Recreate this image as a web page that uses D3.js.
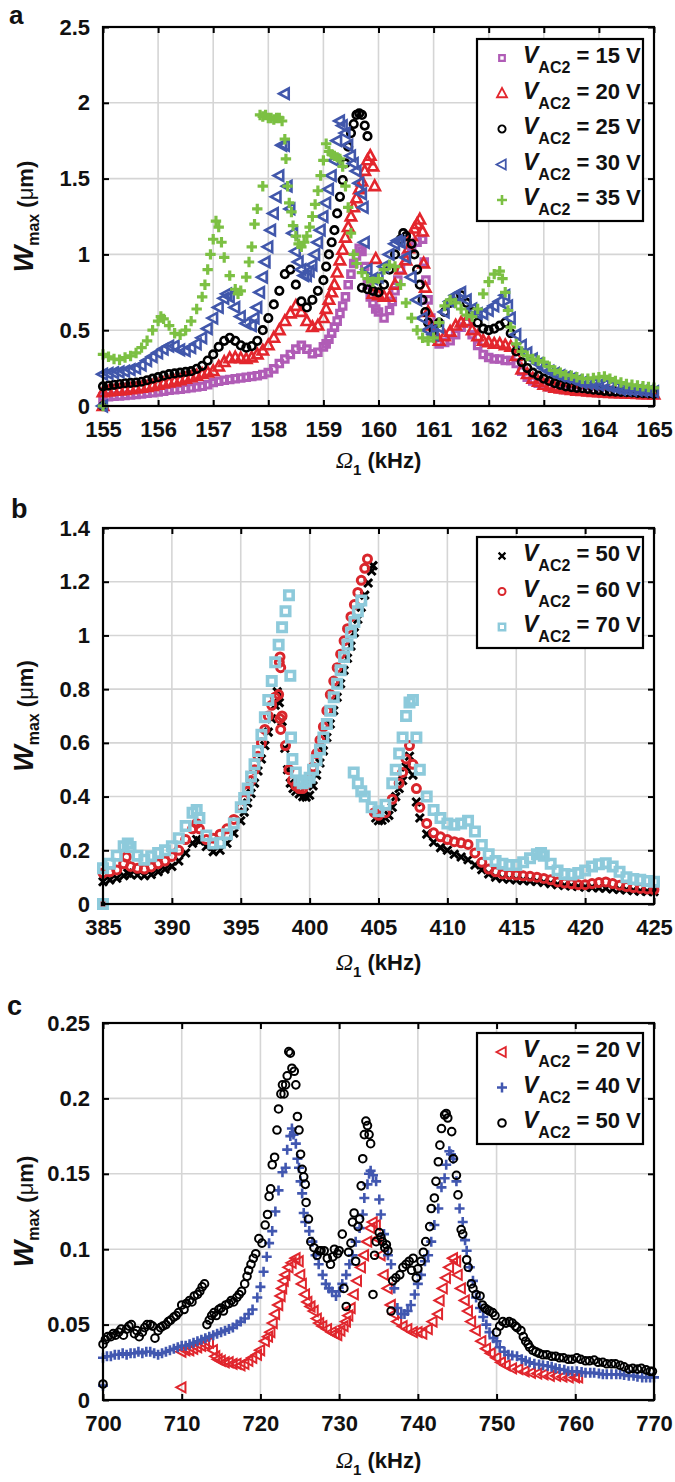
<!DOCTYPE html>
<html><head><meta charset="utf-8">
<script src="https://cdn.jsdelivr.net/npm/d3@7"></script>
<style>body{margin:0;background:#fff}svg{display:block}text{font-family:'Liberation Sans',Arial,sans-serif;font-weight:bold;fill:#111;white-space:pre}</style>
</head><body><svg id="c" width="675" height="1482"></svg>
<script>
// ---------- Panel a data ----------
const aTicksX = [155,156,157,158,159,160,161,162,163,164,165];
const aTicksY = [0,0.5,1,1.5,2,2.5];
const aLabelsY = ['0','0.5','1','1.5','2','2.5'];
const a15 = [[155,0],[155,.060],[155.1,.062],[155.2,.065],[155.3,.067],[155.4,.070],[155.5,.073],[155.6,.077],[155.7,.080],[155.8,.084],[155.9,.088],
[156,.093],[156.1,.098],[156.2,.104],[156.3,.107],[156.4,.110],[156.5,.115],[156.6,.120],[156.7,.125],[156.8,.130],[156.9,.140],
[157,.155],[157.1,.163],[157.2,.170],[157.3,.175],[157.4,.180],[157.5,.185],[157.6,.190],[157.7,.195],[157.8,.200],[157.9,.208],
[158,.220],[158.1,.245],[158.2,.280],[158.3,.310],[158.4,.340],[158.5,.375],[158.6,.400],[158.7,.375],[158.8,.345],[158.9,.355],
[159,.390],[159.05,.41],[159.1,.44],[159.15,.48],[159.2,.52],[159.25,.56],[159.3,.61],[159.35,.66],[159.4,.72],[159.45,.80],[159.5,.87],[159.55,.94],[159.6,.99],[159.65,1.04],[159.7,1.02],[159.75,.92],[159.8,.80],[159.85,.72],[159.9,.68],[159.95,.64],
[160,.62],[160.1,.58],[160.2,.63],[160.25,.69],[160.3,.76],[160.35,.83],[160.4,.90],[160.5,.98],[160.6,1.05],[160.7,1.08],[160.8,1.10],[160.83,.95],[160.86,.83],[160.9,.70],[160.95,.58],
[161,.48],[161.1,.41],[161.2,.42],[161.3,.43],[161.4,.47],[161.5,.52],[161.6,.55],[161.7,.47],[161.8,.40],[161.9,.34],
[162,.32],[162.1,.31],[162.2,.31],[162.3,.30],[162.4,.30],[162.5,.28],[162.6,.23],[162.7,.19],[162.8,.165],[162.9,.150],
[163,.140],[163.1,.125],[163.2,.118],[163.3,.112],[163.4,.107],[163.5,.104],[163.6,.100],[163.7,.097],[163.8,.095],[163.9,.093],
[164,.090],[164.1,.088],[164.2,.086],[164.3,.084],[164.4,.082],[164.5,.081],[164.6,.080],[164.7,.079],[164.8,.077],[164.9,.076],[165,.075]];
const a20 = [[155,0],[155,.090],[155.1,.095],[155.2,.100],[155.3,.102],[155.4,.105],[155.5,.110],[155.6,.115],[155.7,.120],[155.8,.125],[155.9,.132],
[156,.140],[156.1,.148],[156.2,.155],[156.3,.162],[156.4,.170],[156.5,.180],[156.6,.190],[156.7,.200],[156.8,.210],[156.9,.220],
[157,.230],[157.1,.260],[157.2,.290],[157.3,.315],[157.4,.320],[157.5,.315],[157.6,.310],[157.7,.320],[157.8,.340],[157.9,.365],
[158,.400],[158.1,.450],[158.2,.500],[158.3,.560],[158.4,.610],[158.5,.660],[158.6,.620],[158.7,.560],[158.8,.520],[158.9,.530],
[159,.58],[159.05,.64],[159.1,.70],[159.15,.75],[159.2,.80],[159.25,.88],[159.3,.96],[159.35,1.03],[159.4,1.11],[159.45,1.18],[159.5,1.25],[159.55,1.31],[159.6,1.37],[159.65,1.43],[159.7,1.48],[159.75,1.55],[159.8,1.62],[159.85,1.65],[159.9,1.58],[159.93,1.45],[159.95,.97],
[159.9,.74],[160,.73],[160.1,.72],[160.2,.72],[160.3,.80],[160.4,.90],[160.5,.96],[160.55,1.04],[160.6,1.12],[160.65,1.17],[160.7,1.20],[160.75,1.23],[160.8,1.15],[160.82,.94],[160.85,.78],[160.9,.62],[160.95,.53],
[161,.48],[161.1,.43],[161.2,.46],[161.3,.49],[161.4,.53],[161.5,.55],[161.6,.56],[161.7,.50],[161.8,.46],[161.9,.43],
[162,.42],[162.1,.41],[162.2,.41],[162.3,.40],[162.4,.39],[162.5,.33],[162.6,.24],[162.7,.21],[162.8,.18],[162.9,.16],
[163,.14],[163.1,.13],[163.2,.12],[163.3,.115],[163.4,.11],[163.5,.105],[163.6,.10],[163.7,.098],[163.8,.095],[163.9,.092],
[164,.09],[164.1,.088],[164.2,.086],[164.3,.084],[164.4,.083],[164.5,.082],[164.6,.08],[164.7,.079],[164.8,.078],[164.9,.077],[165,.075]];
const a25 = [[155,0],[155,.130],[155.1,.135],[155.2,.140],[155.3,.145],[155.4,.150],[155.5,.152],[155.6,.155],[155.7,.160],[155.8,.170],[155.9,.180],
[156,.190],[156.1,.200],[156.2,.210],[156.3,.215],[156.4,.220],[156.5,.225],[156.6,.230],[156.7,.245],[156.8,.265],[156.9,.300],
[157,.340],[157.1,.390],[157.2,.430],[157.3,.450],[157.4,.430],[157.5,.400],[157.6,.385],[157.7,.395],[157.8,.430],[157.9,.500],
[158,.580],[158.1,.670],[158.2,.760],[158.3,.870],[158.4,.900],[158.5,.800],[158.6,.690],[158.7,.650],[158.8,.700],[158.9,.760],
[159,.83],[159.05,.92],[159.1,1.00],[159.15,1.08],[159.2,1.16],[159.25,1.27],[159.3,1.38],[159.35,1.49],[159.4,1.60],[159.45,1.71],[159.5,1.80],[159.55,1.86],[159.6,1.92],[159.65,1.93],[159.7,1.92],[159.75,1.85],[159.8,1.78],
[159.7,.78],[159.8,.77],[159.9,.76],[160,.75],[160.1,.80],[160.2,.90],[160.3,1.00],[160.4,1.10],[160.45,1.14],[160.5,1.12],[160.6,1.07],[160.65,1.00],[160.7,.90],[160.75,.80],[160.8,.70],[160.85,.62],[160.9,.55],
[161,.50],[161.1,.55],[161.2,.62],[161.3,.68],[161.4,.72],[161.5,.73],[161.6,.68],[161.7,.62],[161.8,.55],[161.9,.51],
[162,.50],[162.1,.51],[162.2,.53],[162.3,.55],[162.4,.48],[162.5,.36],[162.6,.29],[162.7,.25],[162.8,.22],[162.9,.20],
[163,.18],[163.1,.165],[163.2,.15],[163.3,.14],[163.4,.13],[163.5,.125],[163.6,.12],[163.7,.117],[163.8,.113],[163.9,.108],
[164,.105],[164.1,.10],[164.2,.097],[164.3,.095],[164.4,.093],[164.5,.091],[164.6,.089],[164.7,.087],[164.8,.085],[164.9,.083],[165,.08]];
const a30 = [[155,0],[155,.210],[155.1,.215],[155.2,.220],[155.3,.225],[155.4,.230],[155.5,.240],[155.6,.250],[155.7,.270],[155.8,.300],[155.9,.325],
[156,.350],[156.1,.375],[156.2,.395],[156.3,.395],[156.4,.370],[156.5,.365],[156.6,.385],[156.7,.410],[156.8,.450],[156.9,.510],
[157,.580],[157.1,.650],[157.2,.710],[157.25,.740],[157.3,.720],[157.4,.650],[157.5,.590],[157.6,.545],[157.7,.530],[157.75,.58],[157.8,.65],[157.85,.75],[157.9,.85],[157.95,.95],
[158,1.05],[158.05,1.16],[158.1,1.27],[158.15,1.38],[158.2,1.52],[158.25,1.72],[158.3,2.06],
[158.3,1.72],[158.35,1.45],[158.4,1.30],[158.45,1.14],[158.5,1.02],[158.55,.95],[158.6,.90],[158.65,.86],[158.7,.86],[158.75,.89],[158.8,.93],[158.85,1.00],[158.9,1.08],[158.95,1.16],
[159,1.25],[159.05,1.34],[159.1,1.43],[159.15,1.52],[159.2,1.62],[159.25,1.75],[159.3,1.88],[159.35,1.85],[159.4,1.80],[159.45,1.72],[159.5,1.65],[159.55,1.60],[159.6,1.55],[159.65,1.47],[159.7,1.40],[159.73,1.31],[159.75,1.08],[159.8,.90],[159.9,.84],
[160,.85],[160.1,.92],[160.2,1.00],[160.3,1.07],[160.35,1.09],[160.4,1.08],[160.5,.98],[160.6,.85],[160.7,.70],[160.8,.58],[160.9,.50],
[161,.47],[161.1,.52],[161.2,.62],[161.3,.69],[161.4,.73],[161.5,.75],[161.6,.70],[161.7,.64],[161.8,.61],[161.9,.61],
[162,.63],[162.1,.66],[162.2,.69],[162.3,.73],[162.35,.66],[162.4,.58],[162.5,.47],[162.6,.40],[162.7,.35],[162.8,.31],[162.9,.28],
[163,.25],[163.1,.23],[163.2,.215],[163.3,.20],[163.4,.19],[163.5,.18],[163.6,.165],[163.7,.155],[163.8,.15],[163.9,.145],
[164,.14],[164.1,.14],[164.2,.13],[164.3,.12],[164.4,.11],[164.5,.108],[164.6,.105],[164.7,.104],[164.8,.10],[164.9,.098],[165,.095]];
const a35 = [[155,0],[155,.340],[155.1,.325],[155.2,.310],[155.3,.305],[155.4,.320],[155.5,.330],[155.6,.350],[155.7,.385],[155.8,.430],[155.9,.500],
[156,.560],[156.05,.590],[156.1,.575],[156.2,.530],[156.3,.480],[156.4,.470],[156.5,.500],[156.6,.560],[156.7,.640],[156.8,.720],[156.85,.80],[156.9,.90],[156.95,1.00],
[157,1.10],[157.05,1.22],[157.1,1.18],[157.15,1.08],[157.2,.98],[157.3,.86],[157.4,.77],[157.45,.74],[157.5,.76],[157.6,.85],[157.65,.95],[157.7,1.05],[157.75,1.20],[157.8,1.30],[157.9,1.45],
[157.85,1.92],[157.9,1.91],[157.95,1.92],[158,1.90],[158.05,1.90],[158.1,1.89],[158.15,1.90],[158.2,1.90],[158.25,1.88],[158.3,1.76],[158.32,1.63],[158.35,1.45],[158.38,1.34],[158.42,1.28],[158.45,1.19],[158.5,1.12],[158.55,1.07],[158.6,1.05],[158.65,1.08],[158.7,1.12],[158.75,1.18],[158.8,1.25],[158.85,1.33],[158.9,1.42],[158.95,1.52],
[159,1.62],[159.05,1.73],[159.1,1.68],[159.15,1.66],[159.2,1.65],[159.25,1.64],[159.3,1.63],[159.35,1.58],[159.4,1.45],[159.45,1.31],[159.5,1.14],[159.55,1.00],[159.6,.94],[159.7,.88],[159.8,.84],[159.9,.82],
[160,.84],[160.1,.90],[160.2,.93],[160.3,.92],[160.4,.80],[160.5,.68],[160.6,.58],[160.7,.50],[160.8,.45],[160.9,.43],
[161,.45],[161.1,.55],[161.2,.66],[161.3,.70],[161.4,.68],[161.5,.64],[161.6,.60],[161.7,.59],[161.8,.64],[161.9,.74],
[162,.82],[162.1,.87],[162.2,.89],[162.25,.84],[162.3,.75],[162.35,.63],[162.4,.52],[162.5,.41],[162.6,.36],[162.7,.33],[162.8,.31],[162.9,.30],
[163,.29],[163.1,.26],[163.2,.235],[163.3,.22],[163.4,.205],[163.5,.20],[163.6,.19],[163.7,.18],[163.8,.18],[163.9,.185],
[164,.19],[164.1,.195],[164.2,.18],[164.3,.165],[164.4,.155],[164.5,.145],[164.6,.14],[164.7,.135],[164.8,.13],[164.9,.125],[165,.12]];

// ---------- Panel b data ----------
const bTicksX = [385,390,395,400,405,410,415,420,425];
const bTicksY = [0,0.2,0.4,0.6,0.8,1,1.2,1.4];
const bLabelsY = ['0','0.2','0.4','0.6','0.8','1','1.2','1.4'];
const b50 = [[385,0],[385,.083],[385.5,.090],[386,.096],[386.5,.105],[386.8,.115],[387,.110],[387.5,.108],[388,.105],[388.5,.110],[389,.120],[389.5,.130],[390,.140],[390.5,.160],[391,.190],[391.5,.226],[391.8,.240],[392,.235],[392.5,.214],[393,.195],[393.5,.200],[394,.226],[394.5,.264],[395,.310],[395.25,.342],[395.5,.376],[395.75,.412],[396,.450],[396.25,.495],[396.5,.540],[396.75,.590],[397,.640],[397.25,.690],[397.5,.740],[397.65,.790],[397.8,.750],[398,.680],[398.2,.580],[398.4,.500],[398.6,.450],[398.8,.430],[399,.420],[399.25,.410],[399.5,.400],[399.75,.398],[400,.405],[400.25,.440],[400.5,.480],[400.75,.525],[401,.570],[401.25,.620],[401.5,.670],[401.75,.720],[402,.770],[402.25,.820],[402.5,.870],[402.75,.915],[403,.960],[403.25,1.010],[403.5,1.060],[403.75,1.105],[404,1.150],[404.25,1.195],[404.5,1.240],[404.6,1.260],[404.8,.320],[405,.310],[405.25,.312],[405.5,.320],[405.75,.330],[406,.360],[406.25,.400],[406.5,.430],[406.75,.460],[407,.510],[407.25,.550],[407.5,.480],[407.75,.380],[408,.320],[408.5,.260],[409,.230],[409.5,.210],[410,.200],[410.5,.185],[411,.175],[411.5,.165],[412,.145],[412.5,.128],[413,.112],[413.5,.100],[414,.095],[414.5,.092],[415,.090],[415.5,.088],[416,.086],[416.5,.084],[417,.080],[417.5,.076],[418,.072],[418.5,.069],[419,.067],[419.5,.065],[420,.063],[420.5,.062],[421,.060],[421.5,.059],[422,.056],[422.5,.054],[423,.052],[423.5,.050],[424,.048],[424.5,.047],[425,.046]];
const b60 = [[385,0],[385,.115],[385.5,.120],[386,.127],[386.5,.150],[386.7,.175],[387,.140],[387.5,.133],[388,.130],[388.5,.138],[389,.150],[389.5,.160],[390,.177],[390.5,.200],[391,.240],[391.5,.280],[391.8,.300],[392,.280],[392.5,.240],[393,.245],[393.5,.260],[394,.280],[394.5,.315],[395,.360],[395.25,.390],[395.5,.420],[395.75,.460],[396,.500],[396.25,.550],[396.5,.600],[396.75,.650],[397,.700],[397.25,.740],[397.5,.770],[397.75,.780],[397.8,.90],[397.85,.92],[397.9,.88],[397.85,.69],[397.9,.65],[398,.700],[398.25,.590],[398.5,.500],[398.75,.460],[399,.440],[399.25,.430],[399.5,.430],[399.75,.445],[400,.470],[400.25,.510],[400.5,.560],[400.75,.610],[401,.660],[401.25,.720],[401.5,.780],[401.75,.830],[402,.880],[402.25,.930],[402.5,.980],[402.75,1.025],[403,1.070],[403.25,1.115],[403.5,1.160],[403.75,1.205],[404,1.250],[404.2,1.285],[404.7,.340],[405,.330],[405.5,.340],[406,.390],[406.5,.450],[406.75,.490],[407,.540],[407.25,.590],[407.5,.520],[407.75,.430],[408,.360],[408.5,.300],[409,.265],[409.5,.250],[410,.240],[410.5,.232],[411,.228],[411.5,.222],[412,.190],[412.5,.155],[413,.130],[413.5,.120],[414,.112],[414.5,.110],[415,.108],[415.5,.105],[416,.103],[416.5,.100],[417,.095],[417.5,.090],[418,.082],[418.5,.078],[419,.075],[419.5,.072],[420,.072],[420.5,.076],[421,.080],[421.5,.082],[422,.076],[422.5,.070],[423,.065],[423.5,.061],[424,.058],[424.5,.056],[425,.054]];
const b70 = [[385,0],[385,.133],[385.5,.150],[386,.180],[386.5,.215],[386.8,.225],[387,.212],[387.5,.180],[388,.165],[388.5,.178],[389,.190],[389.5,.200],[390,.215],[390.5,.245],[391,.290],[391.5,.340],[391.8,.350],[392,.320],[392.5,.255],[393,.225],[393.5,.228],[394,.260],[394.5,.300],[395,.360],[395.25,.395],[395.5,.430],[395.75,.475],[396,.520],[396.25,.570],[396.5,.630],[396.75,.695],[397,.760],[397.25,.830],[397.5,.900],[397.75,.965],[398,1.030],[398.25,1.090],[398.5,1.150],[398.6,.85],[398.65,.62],[398.75,.54],[399,.49],[399.25,.46],[399.5,.45],[399.75,.455],[400,.470],[400.25,.500],[400.5,.535],[400.75,.575],[401,.620],[401.25,.670],[401.5,.720],[401.75,.770],[402,.820],[402.25,.870],[402.5,.920],[402.75,.965],[403,1.010],[403.25,1.050],[403.5,1.090],[403.75,1.130],[403.2,.490],[403.5,.450],[403.75,.420],[404,.400],[404.5,.360],[405,.345],[405.5,.370],[406,.450],[406.25,.500],[406.5,.560],[406.75,.620],[407,.700],[407.25,.750],[407.5,.760],[407.75,.620],[408,.500],[408.5,.400],[409,.350],[409.5,.320],[410,.300],[410.5,.295],[411,.300],[411.5,.310],[412,.270],[412.5,.220],[413,.185],[413.5,.160],[414,.150],[414.5,.145],[415,.145],[415.5,.155],[416,.170],[416.5,.185],[416.8,.190],[417,.180],[417.5,.150],[418,.125],[418.5,.112],[419,.110],[419.5,.115],[420,.125],[420.5,.140],[421,.148],[421.5,.152],[422,.140],[422.5,.120],[423,.100],[423.5,.093],[424,.090],[424.5,.086],[425,.083]];

// ---------- Panel c data ----------
const cTicksX = [700,710,720,730,740,750,760,770];
const cTicksY = [0,0.05,0.1,0.15,0.2,0.25];
const cLabelsY = ['0','0.05','0.1','0.15','0.2','0.25'];
const c20 = [[710,.0084],[710,.032],[710.5,.033],[711,.033],[711.5,.034],[712,.035],[712.5,.036],[713,.037],[713.5,.038],[714,.033],[714.3,.029],[714.6,.027],[715,.026],[715.5,.025],[716,.025],[716.5,.024],[717,.024],[717.5,.023],[718,.024],[718.5,.026],[719,.028],[719.6,.030],[720,.033],[720.6,.039],[721,.042],[721.3,.045],[721.6,.051],[721.9,.057],[722.3,.063],[722.6,.069],[722.8,.074],[723,.079],[723.2,.083],[723.6,.088],[724,.091],[724.5,.094],[724.9,.092],[725.1,.083],[725.3,.077],[725.7,.070],[726,.065],[726.4,.062],[726.8,.059],[727.2,.054],[727.5,.051],[727.9,.049],[728.5,.047],[729.1,.045],[729.5,.044],[729.8,.043],[730.2,.046],[730.6,.049],[730.9,.052],[731.2,.056],[731.5,.061],[731.9,.070],[732.3,.079],[732.8,.088],[733.2,.096],[733.6,.105],[734,.114],[734.3,.118],[734.7,.116],[734.9,.107],[735.3,.096],[735.7,.083],[736.2,.074],[736.6,.063],[737,.057],[737.4,.052],[738.1,.049],[738.7,.047],[739.4,.045],[740,.045],[740.6,.044],[741.3,.047],[741.9,.052],[742.6,.057],[742.8,.066],[743.2,.074],[743.6,.081],[744,.088],[744.5,.094],[744.9,.092],[745.1,.083],[745.5,.074],[746,.066],[746.4,.059],[746.8,.052],[747.4,.046],[748.1,.039],[748.7,.034],[749.3,.031],[750,.028],[750.6,.025],[751.2,.023],[752,.021],[752.8,.0205],[753.6,.019],[754.4,.018],[755.2,.0175],[756,.017],[756.8,.016],[757.6,.016],[758.4,.0155],[759.2,.015],[760,.015],[760.4,.015]];
const c40 = [[700,.0095],[700,.028],[700.5,.029],[701,.029],[701.5,.030],[702,.030],[702.5,.031],[703,.030],[703.5,.031],[704,.031],[704.5,.032],[705,.031],[705.5,.032],[706,.032],[706.5,.031],[707,.030],[707.5,.031],[708,.032],[708.5,.033],[709,.034],[709.5,.035],[710,.036],[710.5,.036],[711,.037],[711.5,.038],[712,.039],[712.5,.040],[713,.041],[713.5,.042],[714,.043],[714.5,.044],[715,.045],[715.5,.046],[716,.047],[716.5,.048],[717,.050],[717.5,.052],[718,.054],[718.5,.057],[719,.060],[719.6,.068],[720,.075],[720.4,.085],[720.8,.095],[721.1,.104],[721.5,.112],[721.9,.125],[722.3,.139],[722.8,.151],[723.2,.154],[723.4,.166],[723.8,.175],[724,.180],[724.2,.176],[724.5,.170],[724.7,.160],[724.9,.154],[725.1,.145],[725.3,.137],[725.5,.124],[725.7,.118],[726.2,.112],[726.6,.105],[727,.096],[727.4,.090],[727.9,.083],[728.3,.077],[728.7,.074],[729.1,.072],[729.6,.069],[730,.072],[730.4,.077],[730.9,.083],[731.3,.090],[731.7,.096],[732.1,.105],[732.6,.114],[733,.123],[733.2,.134],[733.6,.143],[733.8,.150],[734,.152],[734.3,.149],[734.7,.145],[735.1,.133],[735.3,.123],[735.7,.110],[736.2,.096],[736.6,.090],[737,.074],[737.4,.061],[737.9,.057],[738.3,.057],[738.7,.059],[739.1,.063],[739.6,.070],[740,.077],[740.4,.083],[740.9,.092],[741.3,.096],[741.7,.105],[742.1,.116],[742.6,.127],[743,.141],[743.4,.147],[743.6,.156],[744,.165],[744.2,.163],[744.5,.160],[744.9,.145],[745.3,.127],[745.7,.118],[746,.106],[746.2,.099],[746.6,.088],[747,.079],[747.4,.068],[747.9,.061],[748.3,.055],[748.7,.050],[749.1,.045],[749.6,.041],[750,.039],[750.4,.035],[751,.032],[751.5,.030],[752,.0295],[752.6,.029],[753.2,.027],[753.7,.026],[754.2,.025],[754.8,.024],[755.4,.0235],[755.9,.023],[756.5,.0225],[757,.022],[757.5,.021],[758,.0205],[758.6,.020],[759.1,.019],[759.6,.019],[760.2,.019],[760.8,.0185],[761.3,.018],[761.9,.018],[762.4,.018],[763,.0175],[763.5,.017],[764,.017],[764.6,.017],[765.2,.017],[765.7,.017],[766.2,.0165],[766.8,.016],[767.4,.016],[767.9,.0155],[768.5,.015],[769,.015],[769.5,.015],[770,.015]];
const c50 = [[700,.0106],[700,.037],[700.3,.040],[700.6,.042],[701,.042],[701.3,.044],[701.6,.043],[702,.045],[702.3,.047],[702.6,.043],[703,.047],[703.3,.049],[703.6,.050],[704,.044],[704.3,.046],[704.6,.042],[705,.045],[705.3,.048],[705.6,.050],[706,.050],[706.3,.049],[706.6,.041],[707,.046],[707.3,.048],[707.6,.049],[708,.050],[708.3,.052],[708.6,.053],[709,.055],[709.3,.056],[709.6,.058],[710,.063],[710.3,.060],[710.6,.064],[711,.066],[711.3,.065],[711.6,.069],[712,.070],[712.3,.072],[712.6,.075],[712.9,.077],[713.2,.050],[713.5,.053],[713.8,.056],[714.1,.058],[714.4,.056],[714.7,.060],[715,.061],[715.3,.059],[715.6,.063],[716,.064],[716.3,.066],[716.6,.065],[717,.068],[717.3,.070],[717.6,.072],[718,.077],[718.3,.082],[718.5,.086],[718.8,.090],[719.1,.094],[719.4,.097],[719.8,.107],[720.2,.104],[720.6,.116],[720.9,.123],[721.1,.135],[721.3,.140],[721.5,.156],[721.8,.161],[722.1,.179],[722.3,.193],[722.6,.203],[722.8,.209],[723,.203],[723.2,.209],[723.4,.215],[723.6,.231],[723.8,.230],[724,.220],[724.3,.218],[724.5,.209],[724.7,.188],[724.9,.179],[725.1,.163],[725.3,.153],[725.5,.148],[725.7,.143],[725.8,.131],[726.1,.120],[726.4,.105],[726.8,.101],[727.2,.096],[727.5,.099],[727.7,.099],[728.1,.099],[728.5,.094],[728.9,.090],[729.2,.095],[729.4,.100],[729.8,.097],[730,.099],[730.4,.110],[730.6,.074],[730.9,.062],[731.2,.098],[731.5,.104],[731.7,.118],[731.9,.124],[732.1,.092],[732.4,.115],[732.6,.120],[732.8,.142],[733,.160],[733.2,.176],[733.4,.185],[733.6,.182],[733.8,.176],[734,.170],[734.3,.070],[734.5,.096],[734.7,.105],[735.1,.111],[735.3,.108],[735.5,.105],[735.8,.101],[736,.103],[736.2,.099],[736.6,.059],[736.8,.079],[737.2,.081],[737.7,.083],[738.1,.088],[738.5,.090],[738.9,.092],[739.2,.086],[739.4,.094],[739.8,.081],[740,.087],[740.4,.092],[740.7,.098],[741,.105],[741.5,.115],[741.7,.127],[742.1,.134],[742.3,.145],[742.6,.158],[742.8,.169],[743,.180],[743.4,.189],[743.6,.190],[743.8,.187],[744.3,.178],[744.5,.160],[744.9,.149],[745.1,.136],[745.5,.113],[745.7,.110],[746.2,.093],[746.4,.088],[746.8,.077],[747,.074],[747.4,.070],[747.9,.069],[748.2,.063],[748.5,.061],[748.8,.060],[749.1,.059],[749.5,.058],[749.8,.056],[750,.045],[750.4,.049],[750.8,.052],[751.2,.051],[751.6,.052],[752,.051],[752.4,.049],[752.6,.048],[753.1,.046],[753.4,.042],[753.7,.039],[754,.037],[754.2,.035],[754.6,.033],[755,.032],[755.4,.031],[755.9,.030],[756.4,.030],[757,.029],[757.5,.029],[758,.028],[758.5,.028],[759.1,.027],[759.6,.027],[760.2,.028],[760.7,.027],[761.3,.026],[761.8,.026],[762.4,.0265],[762.9,.025],[763.5,.025],[764,.024],[764.6,.024],[765.1,.024],[765.7,.023],[766.2,.022],[766.8,.0205],[767.3,.021],[767.9,.0205],[768.4,.021],[769,.020],[769.5,.019],[769.8,.019]];

// ---------- drawing ----------
const L = 103, R = 654;
const svg = d3.select('#c');

function symPath(type, s){
  switch(type){
    case 'square': return `M${-s},${-s}H${s}V${s}H${-s}Z`;
    case 'triUp': return `M0,${-s*1.1}L${s},${s*0.75}L${-s},${s*0.75}Z`;
    case 'triLeft': return `M${-s*1.1},0L${s*0.75},${-s}L${s*0.75},${s}Z`;
    case 'circle': return `M${s},0A${s},${s} 0 1,1 ${-s},0A${s},${s} 0 1,1 ${s},0Z`;
    case 'plus': return `M${-s},0H${s}M0,${-s}V${s}`;
    case 'cross': return `M${-s},${-s}L${s},${s}M${-s},${s}L${s},${-s}`;
  }
}

// s/sw: marker size/stroke in the plot; ls/lw: in the legend
const panels = [
 {letter:'a', lx:9, ly:24, lsize:26, top:27, bottom:406, xDom:[155,165], yDom:[0,2.5], xT:aTicksX, yT:aTicksY, yL:aLabelsY, titleY:468, legTop:39,
  series:[
   {data:a15, label:'15', color:'#b05cb6', sym:'square', s:3.2, sw:3.2, ls:2.8, lw:2.2},
   {data:a20, label:'20', color:'#e3262d', sym:'triUp', s:5.2, sw:2.6, ls:5, lw:1.8},
   {data:a25, label:'25', color:'#000000', sym:'circle', s:3.8, sw:2.6, ls:3.6, lw:1.9},
   {data:a30, label:'30', color:'#4157ab', sym:'triLeft', s:5.2, sw:2.6, ls:5, lw:1.8},
   {data:a35, label:'35', color:'#7cc043', sym:'plus', s:5.2, sw:3.2, ls:5, lw:2.6}]},
 {letter:'b', lx:11, ly:518, lsize:27, top:528, bottom:904, xDom:[385,425], yDom:[0,1.4], xT:bTicksX, yT:bTicksY, yL:bLabelsY, titleY:970, legTop:537,
  series:[
   {data:b50, label:'50', color:'#000000', sym:'cross', s:4, sw:3, ls:3.4, lw:2.2},
   {data:b60, label:'60', color:'#d9262c', sym:'circle', s:4, sw:3, ls:3.5, lw:2},
   {data:b70, label:'70', color:'#8dcadb', sym:'square', s:4.2, sw:3.6, ls:3.2, lw:2.4}]},
 {letter:'c', lx:7, ly:1015, lsize:27, top:1023, bottom:1400, xDom:[700,770], yDom:[0,0.25], xT:cTicksX, yT:cTicksY, yL:cLabelsY, titleY:1468, legTop:1033,
  series:[
   {data:c20, label:'20', color:'#e0262d', sym:'triLeft', s:5, sw:2, ls:5, lw:1.9},
   {data:c40, label:'40', color:'#4157b0', sym:'plus', s:5, sw:2.6, ls:5, lw:2.5},
   {data:c50, label:'50', color:'#000000', sym:'circle', s:3.8, sw:2, ls:3.8, lw:2}]}
];

panels.forEach(p => {
  const g = svg.append('g');
  const x = d3.scaleLinear().domain(p.xDom).range([L, R]);
  const y = d3.scaleLinear().domain(p.yDom).range([p.bottom, p.top]);
  const h = p.bottom - p.top, w = R - L;

  // grid
  const grid = g.append('g').attr('stroke','#d5d5d5').attr('stroke-width',1.6);
  grid.selectAll('line.gx').data(p.xT).join('line').attr('x1',d=>x(d)).attr('x2',d=>x(d)).attr('y1',p.top).attr('y2',p.bottom);
  grid.selectAll('line.gy').data(p.yT).join('line').attr('y1',d=>y(d)).attr('y2',d=>y(d)).attr('x1',L).attr('x2',R);

  // axes (inward ticks)
  const ax = (sel) => { sel.select('.domain').remove(); sel.selectAll('line').attr('stroke','#000').attr('stroke-width',2); sel.selectAll('text').style('font-size','22px').attr('fill','#111'); };
  g.append('g').attr('transform',`translate(0,${p.bottom})`).call(d3.axisBottom(x).tickValues(p.xT).tickSize(-6).tickPadding(15).tickFormat(d3.format('d'))).call(ax);
  g.append('g').attr('transform',`translate(0,${p.top})`).call(d3.axisTop(x).tickValues(p.xT).tickSize(-6).tickFormat('')).call(ax);
  g.append('g').attr('transform',`translate(${L},0)`).call(d3.axisLeft(y).tickValues(p.yT).tickSize(-6).tickPadding(13).tickFormat((d,i)=>p.yL[i])).call(ax);
  g.append('g').attr('transform',`translate(${R},0)`).call(d3.axisRight(y).tickValues(p.yT).tickSize(-6).tickFormat('')).call(ax);
  g.selectAll('.tick text').style('font-family',"'Liberation Sans',Arial,sans-serif").style('font-weight','bold');

  // data
  p.series.forEach(s => {
    g.append('g').selectAll('path').data(s.data).join('path')
      .attr('transform', d => `translate(${x(d[0])},${y(d[1])})`)
      .attr('d', symPath(s.sym, s.s))
      .attr('fill','none').attr('stroke', s.color).attr('stroke-width', s.sw).attr('stroke-linejoin','miter');
  });

  // frame
  g.append('rect').attr('x',L).attr('y',p.top).attr('width',w).attr('height',h).attr('fill','none').attr('stroke','#000').attr('stroke-width',2.2);

  // legend
  const n = p.series.length;
  const lg = g.append('g');
  lg.append('rect').attr('x',477).attr('y',p.legTop).attr('width',166).attr('height',24+35.5*(n-1)+16)
    .attr('fill','#fff').attr('stroke','#000').attr('stroke-width',2.2);
  p.series.forEach((s,i) => {
    const by = p.legTop + 24 + 35.5*i;
    lg.append('path').attr('transform',`translate(502,${by-5})`).attr('d',symPath(s.sym,s.ls))
      .attr('fill','none').attr('stroke',s.color).attr('stroke-width',s.lw);
    const t = lg.append('text').attr('x',523).attr('y',by);
    t.append('tspan').text('V').style('font-style','italic').style('font-size','23px');
    t.append('tspan').text('AC2').attr('dy',10).style('font-size','16px');
    t.append('tspan').text(' = ' + s.label + ' V').attr('dy',-10).style('font-size','22px');
  });

  // axis titles
  const xt = g.append('text').attr('x',(L+R)/2).attr('y',p.titleY).attr('text-anchor','middle');
  xt.append('tspan').text('Ω').style('font-family',"'Liberation Serif','Times New Roman',serif").style('font-style','italic').style('font-weight','normal').style('font-size','24px');
  xt.append('tspan').text('1').attr('dy',7).style('font-size','15px');
  xt.append('tspan').text(' (kHz)').attr('dy',-7).style('font-size','22px');

  const yt = g.append('text').attr('transform',`translate(33,${(p.top+p.bottom)/2}) rotate(-90)`).attr('text-anchor','middle');
  yt.append('tspan').text('W').style('font-style','italic').style('font-size','28px');
  yt.append('tspan').text('max').attr('dy',6).style('font-size','16px');
  yt.append('tspan').text(' (').attr('dy',-6).style('font-size','22px');
  yt.append('tspan').text('μ').style('font-size','22px').style('font-weight','normal');
  yt.append('tspan').text('m)').style('font-size','22px');

  // panel letter
  g.append('text').attr('x',p.lx).attr('y',p.ly).text(p.letter).style('font-size',p.lsize+'px');
});
</script>
</body></html>
